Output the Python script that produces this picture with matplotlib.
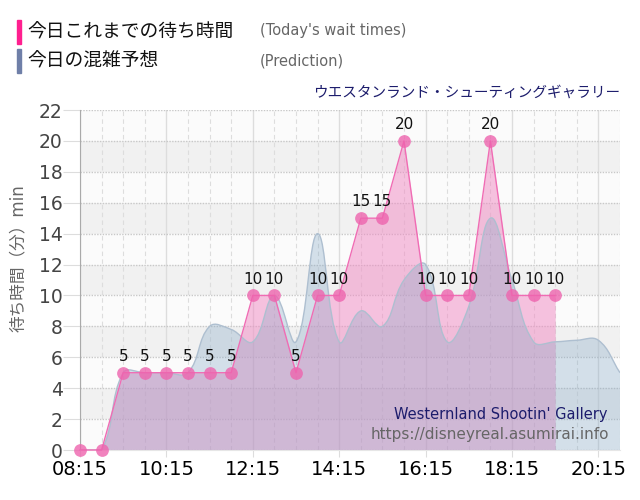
import numpy as np
import matplotlib
matplotlib.use("Agg")
import matplotlib.pyplot as plt
from matplotlib.path import Path
from matplotlib.patches import PathPatch, Rectangle

plt.rcParams['font.family'] = ['DejaVu Sans', 'Noto Sans CJK JP']

# today's wait times (every 30 min)
wait_times = ["08:15", "08:45", "09:15", "09:45", "10:15", "10:45", "11:15", "11:45",
              "12:15", "12:45", "13:15", "13:45", "14:15", "14:45", "15:15", "15:45",
              "16:15", "16:45", "17:15", "17:45", "18:15", "18:45", "19:15"]
wait_values = [0, 0, 5, 5, 5, 5, 5, 5, 10, 10, 5, 10, 10, 15, 15, 20, 10, 10, 10, 20, 10, 10, 10]

# prediction
pred_times = ["08:15", "08:45", "09:15", "09:45", "10:15", "10:45", "11:15", "11:45",
              "12:15", "12:45", "13:15", "13:45", "14:15", "14:45", "15:15", "15:45",
              "16:15", "16:45", "17:15", "17:45", "18:15", "18:45", "19:15", "19:45",
              "20:15", "20:45"]
pred_values = [0, 0, 5, 5, 5, 5, 8, 7.8, 7, 10, 7, 14, 7, 9, 8, 11, 12, 7, 9.3, 15, 11, 7, 7,
               7.1, 7.1, 5]

xtick_labels = ["08:15", "10:15", "12:15", "14:15", "16:15", "18:15", "20:15"]


def to_hours(t):
    h, m = t.split(":")
    return int(h) + int(m) / 60.0


def spline_verts(xs, ys, sx, sy, tension=0.4, ymin=0.0):
    # chart.js-like bezier control points, computed in pixel space
    X = np.asarray(xs) * sx
    Y = np.asarray(ys) * sy
    n = len(X)
    cin, cout = [], []
    for i in range(n):
        p = max(i - 1, 0)
        q = min(i + 1, n - 1)
        d01 = np.hypot(X[i] - X[p], Y[i] - Y[p])
        d12 = np.hypot(X[q] - X[i], Y[q] - Y[i])
        tot = d01 + d12
        s01 = d01 / tot if tot else 0
        s12 = d12 / tot if tot else 0
        fa, fb = tension * s01, tension * s12
        cin.append((X[i] - fa * (X[q] - X[p]), max(Y[i] - fa * (Y[q] - Y[p]), ymin * sy)))
        cout.append((X[i] + fb * (X[q] - X[p]), max(Y[i] + fb * (Y[q] - Y[p]), ymin * sy)))
    verts = [(X[0], Y[0])]
    for i in range(n - 1):
        verts += [cout[i], cin[i + 1], (X[i + 1], Y[i + 1])]
    return [(a / sx, b / sy) for a, b in verts]


wx = [to_hours(t) for t in wait_times]
px = [to_hours(t) for t in pred_times]

fig = plt.figure(figsize=(6.4, 5.0), dpi=100)
ax = fig.add_axes([80 / 640, 50 / 500, 540 / 640, 340 / 500])
ax.set_xlim(8.25, 20.75)
ax.set_ylim(0, 22)
ax.set_facecolor('#fbfbfb')
for y0 in range(2, 22, 4):
    ax.axhspan(y0, y0 + 2, color='#f1f1f1', zorder=0, lw=0)

# today's wait times fill (under the prediction tint)
ax.fill_between(wx, wait_values, 0, color='#f189c3', alpha=0.5, lw=0, zorder=1)

# prediction area (smooth)
sx, sy = 43.2, 15.45
curve = spline_verts(px, pred_values, sx, sy)
codes = [Path.MOVETO] + [Path.CURVE4] * (len(curve) - 1)
fill_verts = [(px[0], 0)] + curve + [(px[-1], 0), (px[0], 0)]
fill_codes = [Path.MOVETO, Path.LINETO] + [Path.CURVE4] * (len(curve) - 1) + [Path.LINETO, Path.CLOSEPOLY]
ax.add_patch(PathPatch(Path(fill_verts, fill_codes), facecolor='#82a7c5', alpha=0.33,
                       edgecolor='none', zorder=2))
ax.add_patch(PathPatch(Path(curve, codes), facecolor='none', edgecolor='#aebfd0',
                       lw=1.0, zorder=2.5))

# today's wait times line and points
ax.plot(wx, wait_values, color='#f06cb4', lw=1.0, zorder=3, clip_on=False)
ax.plot(wx, wait_values, 'o', ms=9.2, color='#ee64ae', alpha=0.8, mec='none', zorder=4,
        clip_on=False)
for x, v in zip(wx, wait_values):
    if v > 0:
        ax.annotate(str(v), (x, v), xytext=(0, 8.5), textcoords='offset points',
                    ha='center', va='baseline', fontsize=11, color='#111111', zorder=5)

# grid / axes
ax.set_xticks([to_hours(t) for t in xtick_labels])
ax.set_xticklabels(xtick_labels)
ax.set_xticks(np.arange(8.25, 20.76, 0.5), minor=True)
ax.set_yticks(range(0, 23, 2))
ax.set_axisbelow(True)
ax.grid(which='major', axis='x', color='#dddddd', ls='-', lw=1)
ax.grid(which='minor', axis='x', color='#dddddd', ls=(0, (4, 3)), lw=0.8)
ax.grid(which='major', axis='y', color='#c8c8c8', ls=(0, (1, 1)), lw=1)
ax.tick_params(axis='x', which='major', length=5, color='#dddddd', labelsize=14,
               labelcolor='#000000', pad=2)
ax.tick_params(axis='x', which='minor', length=0)
ax.tick_params(axis='y', length=12, color='#dddddd', labelsize=13.5, labelcolor='#444444', pad=0.5)
for s in ['top', 'right']:
    ax.spines[s].set_visible(False)
ax.spines['left'].set_color('#aaaaaa')
ax.spines['bottom'].set_color('#e6e6e6')

fig.text(17.5 / 640, 1 - 258 / 500, "待ち時間（分）min", rotation=90, ha='center', va='center',
         fontsize=12, color='#666666')

# header legend
fig.patches.append(Rectangle((17 / 640, 1 - 44 / 500), 4 / 640, 24 / 500,
                             transform=fig.transFigure, color='#ff1f8f'))
fig.patches.append(Rectangle((17 / 640, 1 - 73 / 500), 4 / 640, 24 / 500,
                             transform=fig.transFigure, color='#6f7fa8'))
fig.text(27 / 640, 1 - 32 / 500, "今日これまでの待ち時間", fontsize=13.5, va='center', color='#111111')
fig.text(27 / 640, 1 - 61 / 500, "今日の混雑予想", fontsize=13.5, va='center', color='#111111')
fig.text(260 / 640, 1 - 31 / 500, "(Today's wait times)", fontsize=10.5, va='center', color='#666666')
fig.text(260 / 640, 1 - 61 / 500, "(Prediction)", fontsize=10.5, va='center', color='#666666')
fig.text(620 / 640, 1 - 92 / 500, "ウエスタンランド・シューティングギャラリー", fontsize=10.5,
         ha='right', va='center', color='#1c1c6c')

fig.text(608 / 640, 1 - 415 / 500, "Westernland Shootin' Gallery", fontsize=10.5,
         ha='right', va='center', color='#1c1c6c')
fig.text(609 / 640, 1 - 435 / 500, "https://disneyreal.asumirai.info", fontsize=11,
         ha='right', va='center', color='#666666')

fig.savefig("out.png", dpi=100)
